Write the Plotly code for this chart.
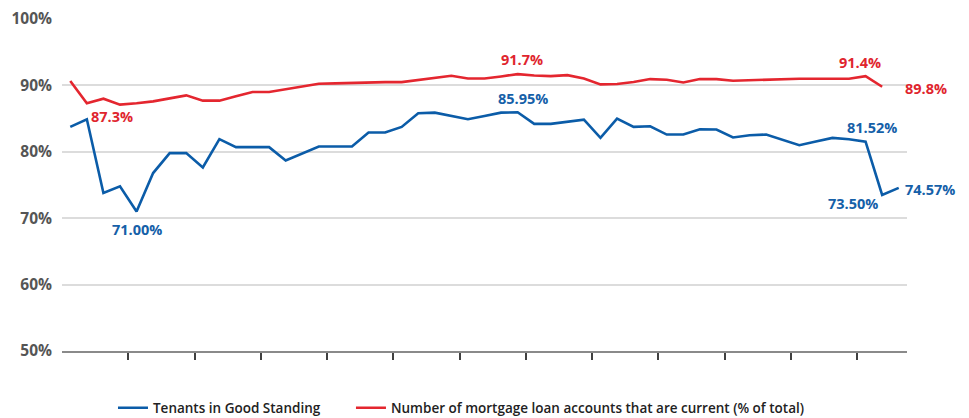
import plotly.graph_objects as go

# Reporting periods (sequential index) and the two series, in percent
periods_tenants = list(range(51))
periods_mortgage = list(range(50))

tenants_good_standing = [
    83.75, 84.9, 73.8, 74.8, 71.0, 76.8, 79.8, 79.8, 77.65, 81.9,
    80.7, 80.7, 80.7, 78.7, 79.8, 80.8, 80.8, 80.8, 82.9, 82.9,
    83.75, 85.8, 85.9, 85.4, 84.9, 85.4, 85.9, 85.95, 84.2, 84.2,
    84.5, 84.85, 82.1, 85.0, 83.75, 83.85, 82.6, 82.6, 83.4, 83.35,
    82.15, 82.5, 82.6, 81.8, 81.0, 81.55, 82.1, 81.9, 81.52, 73.50,
    74.57,
]

mortgage_current = [
    90.65, 87.3, 88.0, 87.1, 87.3, 87.6, 88.05, 88.5, 87.7, 87.7,
    88.35, 89.0, 89.0, 89.4, 89.8, 90.25, 90.3, 90.4, 90.5, 90.5,
    90.5, 90.8, 91.2, 91.45, 91.05, 91.05, 91.35, 91.7, 91.5, 91.4,
    91.55, 91.05, 90.15, 90.2, 90.5, 90.95, 90.85, 90.45, 90.95, 90.95,
    90.7, 90.8, 90.9, 90.95, 91.0, 91.0, 91.0, 91.0, 91.4, 89.8,
]

y_ticks = [50, 60, 70, 80, 90, 100]
y_tick_labels = ["50%", "60%", "70%", "80%", "90%", "100%"]

# Year boundaries fall between every fourth period
x_boundaries = [3.5 + 4 * k for k in range(12)]

BLUE = "#0b5ca8"
RED = "#e4262f"
BLUE_TXT = "#1560a8"
RED_TXT = "#e0252e"

fig = go.Figure()
fig.add_trace(go.Scatter(
    x=periods_tenants, y=tenants_good_standing, mode="lines",
    name="Tenants in Good Standing",
    line=dict(color=BLUE, width=2.6),
    legend="legend",
))
fig.add_trace(go.Scatter(
    x=periods_mortgage, y=mortgage_current, mode="lines",
    name="Number of mortgage loan accounts that are current (% of total)",
    line=dict(color=RED, width=2.6),
    legend="legend2",
))

# Value callouts: (series x, series y, index, colour, x shift, y shift)
callouts = [
    (periods_mortgage, mortgage_current, 1, RED_TXT, 25, -13),
    (periods_mortgage, mortgage_current, 27, RED_TXT, 4, 15),
    (periods_mortgage, mortgage_current, 48, RED_TXT, -6, 14),
    (periods_mortgage, mortgage_current, 49, RED_TXT, 44, -2),
    (periods_tenants, tenants_good_standing, 4, BLUE_TXT, 0, -18),
    (periods_tenants, tenants_good_standing, 27, BLUE_TXT, 5, 14),
    (periods_tenants, tenants_good_standing, 48, BLUE_TXT, 6, 14),
    (periods_tenants, tenants_good_standing, 49, BLUE_TXT, -29, -9),
    (periods_tenants, tenants_good_standing, 50, BLUE_TXT, 31, -2),
]
for xs, ys, i, col, dx, dy in callouts:
    v = ys[i]
    txt = f"{v:.1f}%" if ys is mortgage_current else f"{v:.2f}%"
    fig.add_annotation(
        x=xs[i], y=v, text=txt, showarrow=False,
        xanchor="center", yanchor="middle", xshift=dx, yshift=dy,
        font=dict(family="Open Sans", size=14.5, color=col, weight=700),
    )

legend_style = dict(
    orientation="h", xref="container", yref="container",
    y=0.024, xanchor="left", yanchor="middle",
    font=dict(family="Open Sans", size=13.5, color="#222222", weight=600),
    bgcolor="rgba(0,0,0,0)",
)

fig.update_layout(
    width=969, height=418,
    margin=dict(l=62, r=62, t=19, b=67, autoexpand=False),
    paper_bgcolor="white", plot_bgcolor="white",
    showlegend=True,
    legend=dict(x=0.1166, **legend_style),
    legend2=dict(x=0.3622, **legend_style),
    xaxis=dict(
        range=[-0.5, 50.5], tickvals=x_boundaries, ticktext=[""] * len(x_boundaries),
        showgrid=False, zeroline=False,
        showline=True, linecolor="#8a8a8a", linewidth=2,
        ticks="outside", ticklen=7, tickwidth=2, tickcolor="#404040",
        fixedrange=True,
    ),
    yaxis=dict(
        range=[50, 100], tickvals=y_ticks, ticktext=y_tick_labels,
        showgrid=True, gridcolor="#dcdcdc", gridwidth=2,
        zeroline=False, showline=False,
        ticklabelstandoff=9,
        tickfont=dict(family="Open Sans", size=15.5, color="#555555", weight=700),
        fixedrange=True,
    ),
)

fig.write_html("out.html")
